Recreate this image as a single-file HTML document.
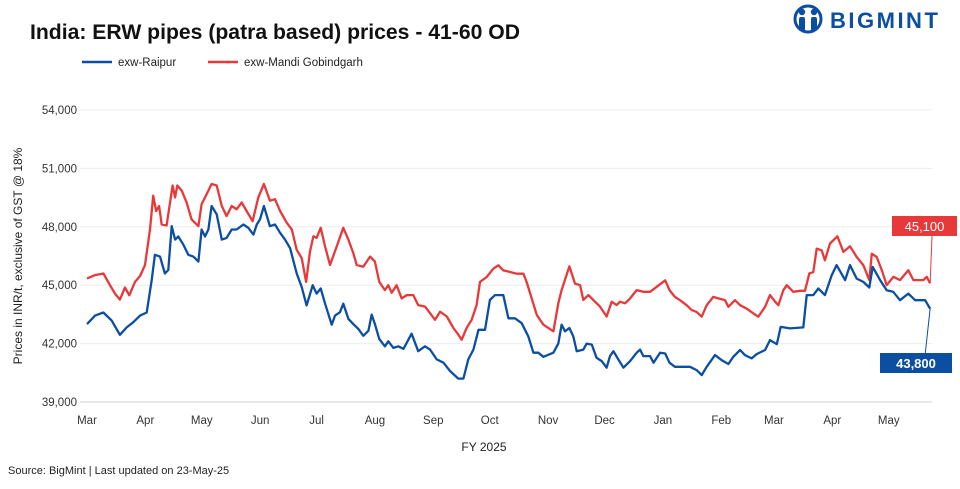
<!DOCTYPE html>
<html><head><meta charset="utf-8"><style>
html,body{margin:0;padding:0;background:#fff;}
body{width:960px;height:484px;overflow:hidden;font-family:"Liberation Sans",sans-serif;}
svg text{font-family:"Liberation Sans",sans-serif;}
</style></head><body>
<svg id="chart" width="960" height="484" viewBox="0 0 960 484">
<text x="30" y="39" font-size="21" font-weight="bold" fill="#111" textLength="490" lengthAdjust="spacingAndGlyphs">India: ERW pipes (patra based) prices - 41-60 OD</text>
<g>
 <circle cx="808" cy="19" r="13" fill="none" stroke="#0b4ea2" stroke-width="3"/>
 <circle cx="802" cy="12" r="3.2" fill="#0b4ea2"/><circle cx="814" cy="12" r="3.2" fill="#0b4ea2"/>
 <rect x="799" y="17" width="6" height="14" rx="2" fill="#0b4ea2"/><rect x="811" y="17" width="6" height="14" rx="2" fill="#0b4ea2"/>
 <text x="830" y="28" font-size="22" font-weight="bold" fill="#0b4ea2" letter-spacing="2.5">BIGMINT</text>
</g>
<g>
 <line x1="82" y1="62" x2="112" y2="62" stroke="#0b4ea2" stroke-width="2.5"/>
 <text x="118" y="66" font-size="11.5" fill="#222">exw-Raipur</text>
 <line x1="208" y1="62" x2="238" y2="62" stroke="#e8393a" stroke-width="2.5"/>
 <text x="244" y="66" font-size="11.5" fill="#222">exw-Mandi Gobindgarh</text>
</g>
<text transform="translate(22,256) rotate(-90)" text-anchor="middle" font-size="12" fill="#222">Prices in INR/t, exclusive of GST @ 18%</text>
<text x="484" y="451" text-anchor="middle" font-size="12" fill="#222">FY 2025</text>
<text x="8" y="474" font-size="11" fill="#222">Source: BigMint  | Last updated on 23-May-25</text>
<g id="grid"></g><g id="yt"></g><g id="xt"></g><g id="series"></g><g id="labels"></g>
</svg>
<script>
const yTicks=[39000,42000,45000,48000,51000,54000];
const monthLabels=["Mar","Apr","May","Jun","Jul","Aug","Sep","Oct","Nov","Dec","Jan","Feb","Mar","Apr","May"];
const monthDays=[0,31,61,92,122,153,184,214,245,275,306,337,365,396,426];
const raipurDays=[0,4.3,8.7,13.1,17.5,21.1,24.6,28.2,31.7,34.4,36.1,38.8,41.4,43.2,45,46.8,48.5,51.2,53.8,56.5,59.2,60.9,62.7,64.5,66.2,68.9,71.6,74.2,76.9,79.5,83.1,85.7,88.4,90.2,91.9,94,97.2,99.9,102.6,105.2,107.9,111.4,114.1,116.7,119.9,122,124.2,126.5,130,131.8,134.4,136.2,138.9,141.5,144.2,146.8,149.5,151.3,153,155.3,
158.3,160.1,162.8,165.4,168.1,172.5,176,179.6,182.3,185.8,189.4,192.9,197.3,200,202.6,205.3,208,211.5,214.1,216.8,221.2,223.9,227.4,231,234.5,237.2,239.8,242.5,247.8,250.4,252.2,254,256.3,258.4,260.2,263.7,265.5,268.2,270.8,273.5,276.1,277.9,279.7,282.3,285,288.6,292.1,293.9,295.6,299.2,301,304.5,307.2,309.5,
312.4,315.1,320.4,323.9,326.6,329.3,333.7,337.2,340.8,343.4,347,349.6,353.2,355.8,360.3,362.9,366.5,368.6,373.6,380.6,382.4,385.9,388.6,392.1,395.7,398.3,402.8,405.4,409,412.5,415.7,417.5,421.4,424.9,428.4,432,436.4,440,445.3,448];
const raipurValues=[43000,43440,43600,43180,42450,42830,43100,43440,43600,45260,46560,46470,45600,45780,48030,47340,47500,47080,46560,46470,46210,47860,47500,47860,49070,48640,47340,47430,47860,47860,48120,47950,47600,48120,48380,49070,48030,48120,47690,47340,46900,45600,44910,43960,45000,44570,44830,44050,42970,43440,43610,44050,43270,43000,42750,42400,42660,43490,43000,42230,
41860,42120,41780,41860,41730,42510,41610,41860,41690,41190,41020,40590,40200,40200,41190,41690,42710,42710,44240,44490,44490,43300,43300,43050,42370,41530,41530,41320,41530,42000,42970,42630,42800,42370,41610,41690,42000,41950,41270,41100,40760,41360,41610,41190,40760,41100,41530,41690,41360,41360,41020,41530,41490,41020,
40810,40810,40810,40640,40380,40810,41410,41150,40950,41320,41670,41410,41240,41460,41670,42180,41970,42860,42780,42830,44490,44490,44830,44490,45510,46030,45260,46030,45340,45170,44880,45940,45260,44740,44660,44230,44570,44230,44230,43800];
const mandiDays=[0,4.3,8.7,12.2,14.9,17.5,20.2,22.5,25.5,28.2,30.8,33.5,35.2,36.7,38.3,39.7,42.3,45.5,46.8,48,50.3,52.9,55.6,59.2,60.9,63.6,66.2,68.9,71.6,74.2,76.9,79.5,82.2,84.8,88,91,94,97.2,99.9,102.6,106.1,108.8,111.4,114.1,116.4,118.5,120.3,122,124.2,126.5,129.1,132.7,136.2,138.9,141.5,143.3,146.8,150.4,153,155.3,
158.3,160.1,161.9,164.5,167.2,169.9,173.4,176,179.6,182.3,184.9,187.6,191.2,194.7,197.3,199.1,201.7,204.4,207,208.8,212.4,215.9,218.6,221.2,224.8,228.3,231.9,233.6,236.3,239,242.5,247.8,250.4,252.2,256.3,259.3,262,263.7,266.4,269.9,272.6,276.1,278.8,281.4,283.2,285.9,288.6,292.1,295.6,299.2,302.7,307.2,309.5,
312.4,315.1,318.6,321.3,323.9,326.6,329.3,332.8,335.5,339,340.8,344.3,347,350.5,354.1,356.7,360.3,362.9,365.6,367.4,370,371.8,375.3,378.9,381.5,383.8,385.9,387.7,390.4,392.1,394.8,398.7,401.9,405.4,409,412.5,415.7,417,419.6,422.3,424.9,428.5,432,436.4,439.1,444.4,446.2,448];
const mandiValues=[45350,45520,45600,45000,44570,44260,44880,44480,45170,45470,46040,47860,49600,48810,49070,48120,48070,50120,49510,50120,49860,49250,48380,48030,49160,49680,50200,50120,49070,48550,49070,48900,49250,48810,48290,49510,50200,49340,49420,48810,48210,47860,46820,46390,45170,46730,47510,47430,47950,46990,46040,46990,47950,47340,46650,46040,45950,46470,46210,45170,
44750,45000,44610,45000,44320,44490,44490,43980,43900,43560,43220,43640,43390,42800,42460,42200,42800,43220,43980,45170,45420,45850,46020,45760,45680,45590,45590,45170,44320,43470,42970,42630,44070,44750,45970,45080,45000,44240,44490,44150,43900,43390,44150,43980,44150,44070,44320,44750,44660,44660,44920,45250,44750,
44400,44230,43970,43720,43630,43380,43970,44400,44320,44230,43890,44230,43970,43800,43550,43380,43890,44490,44150,43970,44740,45000,44660,44710,44710,45600,45680,46880,46790,46280,47140,47510,46710,47000,46450,46030,45260,46620,46450,45770,45000,45430,45260,45770,45260,45260,45430,45100];

const NS='http://www.w3.org/2000/svg';
const X0=87,PXD=1.882,Y0=402,PXV=0.019467;
function xs(d){return X0+d*PXD;}
function ys(v){return Y0-(v-39000)*PXV;}
function mk(tag,attrs,parent,text){const e=document.createElementNS(NS,tag);for(const k in attrs)e.setAttribute(k,attrs[k]);if(text!==undefined)e.textContent=text;parent.appendChild(e);return e;}
const grid=document.getElementById('grid'),yt=document.getElementById('yt'),xt=document.getElementById('xt'),ser=document.getElementById('series'),lab=document.getElementById('labels');
yTicks.forEach(v=>{
 const l=mk('line',{x1:80,x2:932,y1:ys(v),y2:ys(v),stroke:v===39000?'#d0d0d0':'#ececec','stroke-width':1},grid);
 
 
 const t=mk('text',{x:77,y:ys(v)+4,'text-anchor':'end','font-size':11.5,fill:'#333'},yt,v.toLocaleString('en-US'));
 
 
});
monthLabels.forEach((m,i)=>{
 const t=mk('text',{x:xs(monthDays[i]),y:424,'text-anchor':'middle','font-size':11.5,fill:'#333'},xt,m);
 
 
});
function line(days,vals,color,name){
 const n=Math.min(days.length,vals.length);let d='';
 for(let i=0;i<n;i++)d+=(i?'L':'M')+xs(days[i]).toFixed(1)+','+ys(vals[i]).toFixed(1);
 const p=mk('path',{d:d,fill:'none',stroke:color,'stroke-width':2.3,'stroke-linejoin':'round'},ser);
 
 
 return [xs(days[n-1]),ys(vals[n-1]),vals[n-1]];
}
const r=line(mandiDays,mandiValues,'#e8393a','series-mandi-gobindgarh');
const b=line(raipurDays,raipurValues,'#0b4ea2','series-raipur');
function callout(end,color,bx,by,bw,name){
 mk('line',{x1:end[0],y1:end[1],x2:bx+bw/2+8,y2:by+(by<end[1]?8:12),stroke:color,'stroke-width':1},lab);
 const g=mk('g',{},lab);
 
 
 mk('rect',{x:bx,y:by,width:bw,height:20,fill:color},g);
 mk('text',{x:bx+bw/2,y:by+15,'text-anchor':'middle','font-size':13,fill:'#fff','font-weight':color==='#0b4ea2'?'bold':'normal'},g,end[2].toLocaleString('en-US'));
}
callout(r,'#e8393a',892,216,65,'label-mandi-last');
callout(b,'#0b4ea2',880,353,72,'label-raipur-last');
</script>
</body></html>
